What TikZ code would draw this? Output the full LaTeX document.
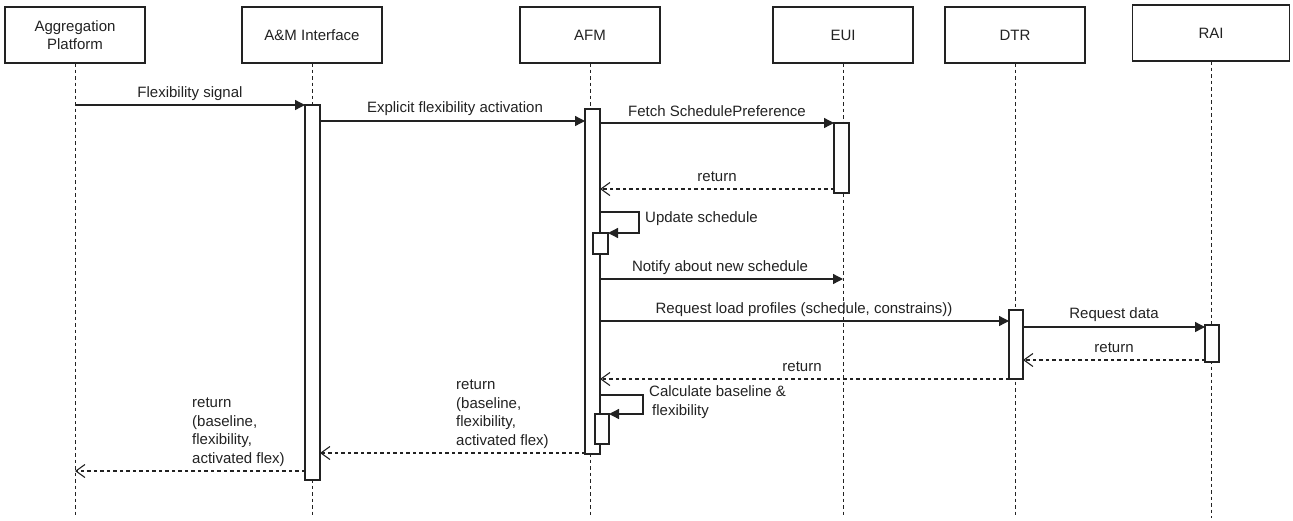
\documentclass[tikz,border=0pt]{standalone}
\usepackage{fontspec}
\setmainfont{Liberation Sans}
\usetikzlibrary{arrows.meta}
\definecolor{ink}{HTML}{222222}
\newcommand{\lbl}{\fontsize{15}{18.5}\selectfont}
\tikzset{
 actor/.style={draw=ink, line width=1.3pt, fill=white, minimum width=140pt, minimum height=56pt, inner sep=0pt, outer sep=0pt, align=center, font=\lbl, text=ink},
 life/.style={draw=ink, line width=1pt, dash pattern=on 3.5pt off 3pt},
 actbar/.style={draw=ink, line width=1.3pt, fill=white, inner sep=0pt, outer sep=0pt, anchor=north west},
 sync/.style={draw=ink, line width=1.3pt, -{Triangle[length=10pt,width=10pt]}},
 reply/.style={draw=ink, line width=1.1pt, dash pattern=on 3.5pt off 3pt, -{Straight Barb[length=9pt,width=13pt,line width=1.1pt]}},
 msglbl/.style={font=\lbl, text=ink, inner sep=0pt, text height=11pt, text depth=3pt},
 mlbl/.style={font=\lbl, text=ink, inner sep=0pt, align=left, anchor=west},
}
\begin{document}
\begin{tikzpicture}[x=1pt,y=-1pt]
\useasboundingbox (0,0) rectangle (1293,520);
% actors
\node[actor] (ap) at (75,35) {Aggregation\\Platform};
\node[actor] (am) at (312,35) {A\&M Interface};
\node[actor] (afm) at (590,35) {AFM};
\node[actor] (eui) at (843,35) {EUI};
\node[actor] (dtr) at (1015,35) {DTR};
\node[actor, minimum width=157pt] (rai) at (1211,33) {RAI};
% lifelines
\foreach \n in {ap,am,afm,eui,dtr,rai}
  \draw[life] (\n.south) -- (\n.south |- 0,518);
% activation bars
\node[actbar, minimum width=15pt, minimum height=375pt] (amB) at (305,105) {};
\node[actbar, minimum width=15pt, minimum height=345pt] (afmB) at (585,109) {};
\node[actbar, minimum width=15pt, minimum height=70pt] (euiB) at (834,123) {};
\node[actbar, minimum width=15pt, minimum height=21pt] (nb1) at (593,233) {};
\node[actbar, minimum width=14pt, minimum height=69pt] (dtrB) at (1009,310) {};
\node[actbar, minimum width=14pt, minimum height=37pt] (raiB) at (1205,325) {};
\node[actbar, minimum width=14pt, minimum height=30pt] (nb2) at (595,414) {};
% messages
\draw[sync] (ap.south |- 0,105) -- (amB.north west);
\draw[sync] (amB.east |- 0,121) -- (afmB.west |- 0,121);
\draw[sync] (afmB.east |- 0,123) -- (euiB.north west);
\draw[reply] (euiB.west |- 0,189) -- (afmB.east |- 0,189);
\draw[sync] (afmB.east |- 0,212) -- ++(39,0) |- (nb1.north east);
\draw[sync] (afmB.east |- 0,279) -- (eui.south |- 0,279);
\draw[sync] (afmB.east |- 0,321) -- (dtrB.west |- 0,321);
\draw[sync] (dtrB.east |- 0,327) -- (raiB.west |- 0,327);
\draw[reply] (raiB.west |- 0,360) -- (dtrB.east |- 0,360);
\draw[reply] (dtrB.west |- 0,379) -- (afmB.east |- 0,379);
\draw[sync] (afmB.east |- 0,395) -- ++(43,0) |- (nb2.north east);
\draw[reply] (afmB.west |- 0,453) -- (amB.east |- 0,453);
\draw[reply] (amB.west |- 0,471) -- (ap.south |- 0,471);
% labels
\node[msglbl] (l1) at (190,93) {Flexibility signal};
\node[msglbl] (l2) at (455,108) {Explicit flexibility activation};
\node[msglbl] (l3) at (717,112) {Fetch SchedulePreference};
\node[msglbl] (l4) at (717,177) {return};
\node[msglbl, anchor=west] (l5) at (645,218) {Update schedule};
\node[msglbl] (l6) at (720,267) {Notify about new schedule};
\node[msglbl] (l7) at (804,309) {Request load profiles (schedule, constrains))};
\node[msglbl] (l8) at (1114,314) {Request data};
\node[msglbl] (l9) at (1114,348) {return};
\node[msglbl] (l10) at (802,367) {return};
\node[mlbl] (l11) at (649,402) {Calculate baseline \&\\\hspace{3pt}flexibility};
\node[mlbl] (l12) at (456,414) {return\\(baseline,\\flexibility,\\activated flex)};
\node[mlbl] (l13) at (192,432) {return\\(baseline,\\flexibility,\\activated flex)};
\end{tikzpicture}
\end{document}
